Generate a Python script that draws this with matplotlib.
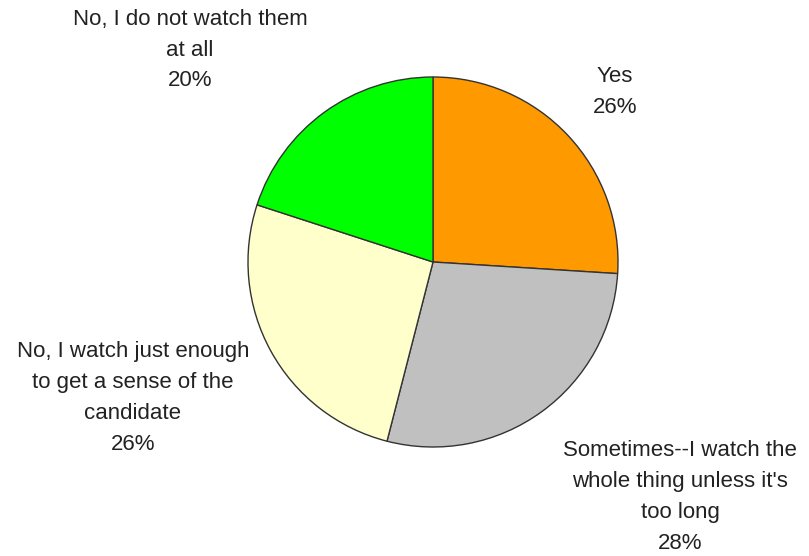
import matplotlib.pyplot as plt

plt.rcParams['font.family'] = 'Liberation Sans'

# Survey answers, clockwise from the top
answers = [
    'Yes',
    "Sometimes--I watch the\nwhole thing unless it's\ntoo long",
    'No, I watch just enough\nto get a sense of the\ncandidate',
    'No, I do not watch them\nat all',
]
shares = [26, 28, 26, 20]
colors = ['#FF9900', '#C0C0C0', '#FFFFCC', '#00FF00']

# label anchor points (pixel space, top-left origin)
label_xy = [(615, 92), (680, 497), (133, 398), (190, 50)]

W, H = 809, 556
fig = plt.figure(figsize=(W / 100, H / 100), dpi=100)
ax = fig.add_axes([0, 0, 1, 1])

ax.pie(shares, colors=colors, startangle=90, counterclock=False,
       center=(433, H - 262), radius=185, frame=True,
       wedgeprops=dict(edgecolor='#333333', linewidth=1.0))
ax.set_xlim(0, W)
ax.set_ylim(0, H)
ax.set_aspect('equal')
ax.axis('off')

for name, pct, (x, y) in zip(answers, shares, label_xy):
    ax.text(x, H - y, f'{name}\n{pct}%', ha='center', va='center',
            fontsize=16, color='#222222', linespacing=1.62)

fig.savefig('out.png', dpi=100, facecolor='white')
